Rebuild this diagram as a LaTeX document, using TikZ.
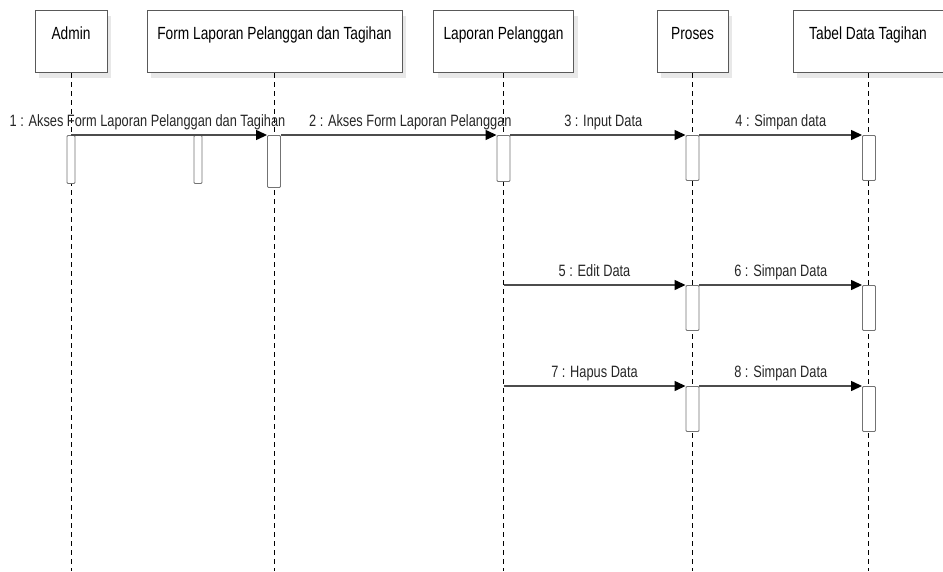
\documentclass[tikz,border=0pt]{standalone}
\usepackage{fontspec}
\setmainfont{Liberation Sans}[FakeStretch=0.78]
\usetikzlibrary{arrows.meta,shadows}

\begin{document}
\begin{tikzpicture}[x=1pt,y=-1pt,font=\fontsize{16.4}{18}\selectfont,
actor/.style={draw=black!65,line width=1pt,fill=white,rectangle,anchor=north,font=\fontsize{17.6}{19}\selectfont,text height=12.5pt,text depth=17.5pt,inner ysep=16pt,drop shadow={opacity=0.18,shadow xshift=4pt,shadow yshift=-5pt}},
act/.style={draw=black!55,line width=0.9pt,fill=white,rectangle,anchor=north,inner sep=0pt,minimum width=13pt,minimum height=45pt,rounded corners=1pt},
life/.style={black,line width=0.6pt,dash pattern=on 5pt off 4pt},
msg/.style={draw=black!70,line width=1.3pt,-{Triangle[length=11pt,width=10pt,color=black]}},
lbl/.style={above=4pt,text=black!85,inner sep=0pt,text height=12pt,text depth=3.5pt}]
\useasboundingbox (0,0) rectangle (943,571);
\coordinate (bot) at (0,571);
\node[actor,minimum width=72pt] (admin) at (71,10) {Admin};
\node[actor,minimum width=255pt] (form) at (274.5,10) {Form Laporan Pelanggan dan Tagihan};
\node[actor,minimum width=140pt] (laporan) at (503.5,10) {Laporan Pelanggan};
\node[actor,minimum width=71pt] (proses) at (692.5,10) {Proses};
\node[actor,minimum width=150pt] (tabel) at (868,10) {Tabel Data Tagihan};
\foreach \n in {admin,form,laporan,proses,tabel}
  \draw[life] (\n.south) -- (\n.south |- bot);
% aktivasi
\node[act,minimum width=8pt,minimum height=48pt] (a1) at (71,135) {};
\node[act,minimum width=8pt,minimum height=48pt] (m1) at (198,135) {};
\node[act,minimum height=52pt] (f1) at (274,135) {};
\node[act,minimum height=46pt] (l1) at (503.5,135) {};
\node[act] (p1) at (692.5,135) {};
\node[act] (t1) at (869,135) {};
\node[act] (p2) at (692.5,285) {};
\node[act] (t2) at (869,285) {};
\node[act] (p3) at (692.5,386) {};
\node[act] (t3) at (869,386) {};
% pesan
\draw[msg] (a1.north) -- node[lbl,pos=0.39] {1 : Akses Form Laporan Pelanggan dan Tagihan} (f1.north west);
\draw[msg] (f1.north east) -- node[lbl,pos=0.6] {2 : Akses Form Laporan Pelanggan} (l1.north west);
\draw[msg] (l1.north east) -- node[lbl,pos=0.53] {3 : Input Data} (p1.north west);
\draw[msg] (p1.north east) -- node[lbl] {4 : Simpan data} (t1.north west);
\draw[msg] (laporan.south |- p2.north) -- node[lbl] {5 : Edit Data} (p2.north west);
\draw[msg] (p2.north east) -- node[lbl] {6 : Simpan Data} (t2.north west);
\draw[msg] (laporan.south |- p3.north) -- node[lbl] {7 : Hapus Data} (p3.north west);
\draw[msg] (p3.north east) -- node[lbl] {8 : Simpan Data} (t3.north west);
\end{tikzpicture}
\end{document}
